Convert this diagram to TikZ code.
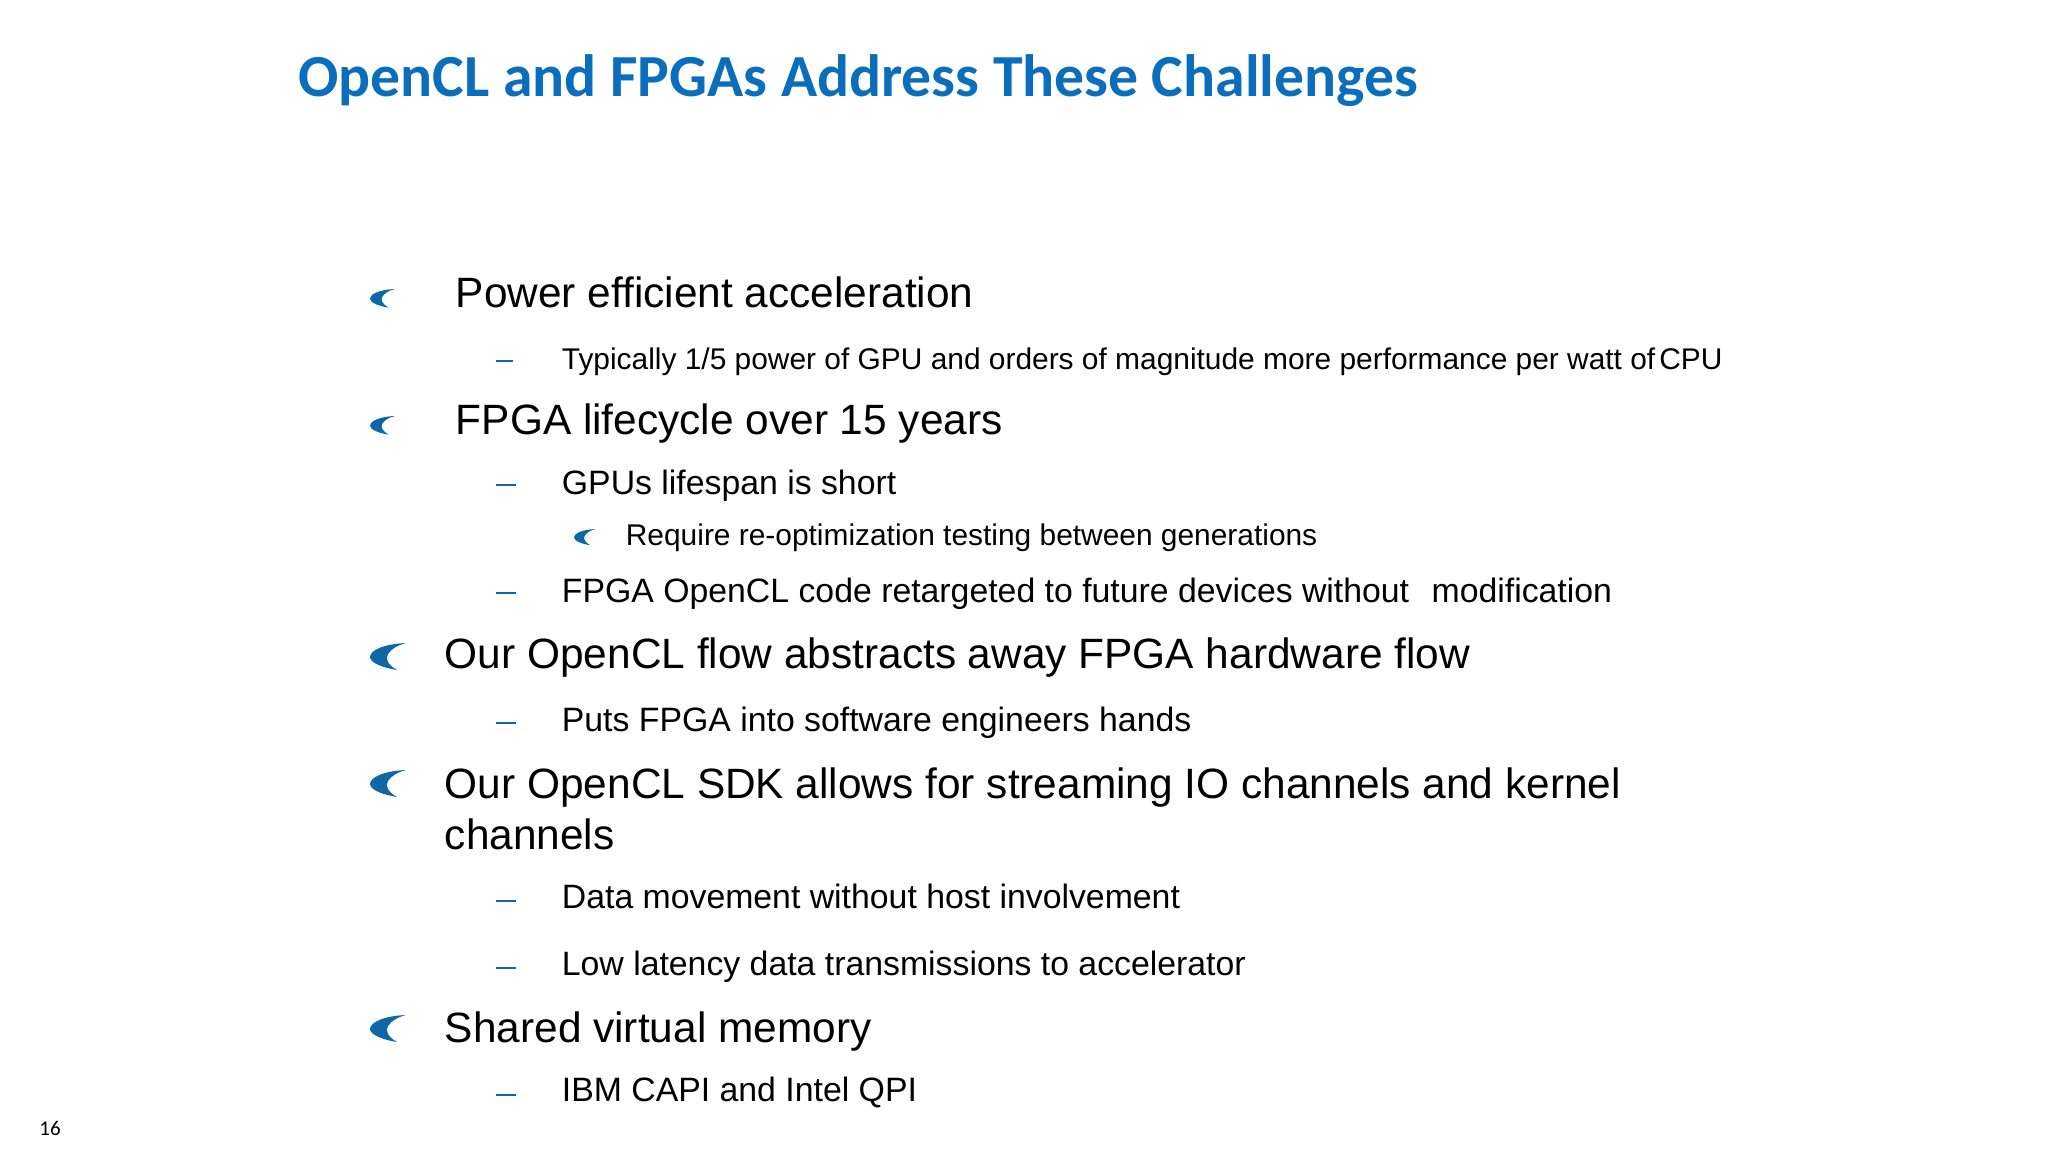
\documentclass[tikz,border=0pt]{standalone}
\usepackage{fontspec}
\setmainfont{Liberation Sans}
\newfontfamily\carlito{Carlito}
\definecolor{titleblue}{HTML}{0A6EBD}
\definecolor{bulletblue}{HTML}{0F67A6}
\tikzset{
  x=0.5pt,y=-0.5pt,
  big/.style={anchor=base west,inner sep=0pt,text=black,font=\fontsize{21.2}{25}\selectfont},
  small/.style={anchor=base west,inner sep=0pt,text=black,font=\fontsize{16.9}{20}\selectfont},
  tiny/.style={anchor=base west,inner sep=0pt,text=black,font=\fontsize{14.95}{18}\selectfont},
  titletext/.style={anchor=base west,inner sep=0pt,text=titleblue,font=\carlito\bfseries\fontsize{29.85}{35}\selectfont},
  pagenum/.style={anchor=base west,inner sep=0pt,text=black,font=\carlito\fontsize{10.5}{12}\selectfont},
  crescent/.pic={\fill[bulletblue] (36,0) .. controls (12,1) and (0,8) .. (0,14) .. controls (0,20) and (14,25) .. (27,27) .. controls (18,22) and (15,16) .. (18,11) .. controls (21,6) and (28,2) .. (36,0) -- cycle;},
  dashmark/.style={bulletblue,line width=1.2pt}
}
\begin{document}
\begin{tikzpicture}
\useasboundingbox[fill=white] (0,0) rectangle (2048,1152);
\node[titletext] (title) at (298,96) {OpenCL and FPGAs Address These Challenges};
\node[big] (t1) at (455.5,307) {Power efficient acceleration};
\node[tiny] (t1a) at (561.5,369) {Typically 1/5 power of GPU and orders of magnitude more performance per watt of\hspace{2pt}CPU};
\node[big] (t2) at (455.5,434) {FPGA lifecycle over 15 years};
\node[small] (t2a) at (561.5,494.5) {GPUs lifespan is short};
\node[tiny] (t2b) at (625.5,545) {Require re-optimization testing between generations};
\node[small] (t2c) at (561.5,602.5) {FPGA OpenCL code retargeted to future devices without\hspace{11.25pt}modification};
\node[big] (t3) at (444.5,668.5) {Our OpenCL flow abstracts away FPGA hardware flow};
\node[small] (t3a) at (561.5,731.5) {Puts FPGA into software engineers hands};
\node[big] (t4) at (444.5,798) {Our OpenCL SDK allows for streaming IO channels and kernel};
\node[big] (t4b) at (444.5,849) {channels};
\node[small] (t4c) at (561.5,908.5) {Data movement without host involvement};
\node[small] (t4d) at (561.5,975.5) {Low latency data transmissions to accelerator};
\node[big] (t5) at (444.5,1042) {Shared virtual memory};
\node[small] (t5a) at (561.5,1101.5) {IBM CAPI and Intel QPI};
\node[pagenum] (page) at (39,1135) {16};
\pic[scale=0.69] at (370,289) {crescent};
\pic[scale=0.69] at (370,416) {crescent};
\pic[scale=0.6] at (574,529) {crescent};
\pic at (370,643) {crescent};
\pic at (370,770) {crescent};
\pic at (370,1015) {crescent};
\draw[dashmark] (496,361) -- (513,361);
\foreach \yy in {485,593,723,901,968,1095}{\draw[dashmark] (496,\yy) -- (516,\yy);}
\end{tikzpicture}
\end{document}
